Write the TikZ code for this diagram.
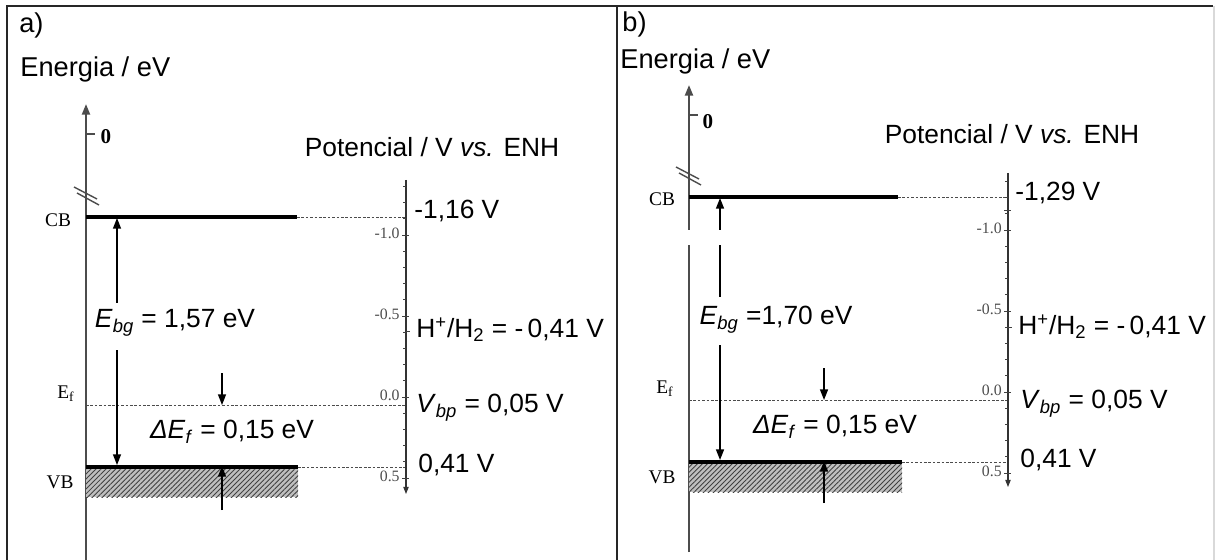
\documentclass[tikz,border=0pt]{standalone}
\usepackage{fontspec}
\setmainfont{Liberation Sans}
\newfontfamily\tnr{Liberation Serif}
\usepackage{tikz}
\usetikzlibrary{arrows.meta,positioning,patterns.meta}

\begin{document}
\begin{tikzpicture}[x=0.02cm, y=-0.02cm,
  every node/.style={inner sep=0pt, font=\fontsize{15}{18}\selectfont},
  tag/.style={anchor=base west, font=\fontsize{15.5}{18}\selectfont},
  axis/.style={draw=black!70, line width=1.2pt, -{Triangle[length=6pt,width=4.5pt]}},
  potaxis/.style={draw=black!80, line width=0.6pt, -{Triangle[length=4pt,width=3pt]}},
  band/.style={line width=1.9pt},
  guide/.style={draw=black!70, line width=0.4pt, dash pattern=on 1.5pt off 1pt},
  gaparrow/.style={line width=0.8pt, -{Triangle[length=6pt,width=4.5pt]}},
  hatch/.style={pattern={Lines[angle=45,distance=2pt,line width=0.5pt]}, pattern color=black!75},
  lvl/.style={font=\tnr\fontsize{11}{13}\selectfont},
  ticklab/.style={anchor=east, text=black!70, font=\tnr\fontsize{9}{11}\selectfont},
  value/.style={anchor=west}
]
\useasboundingbox (0,0) rectangle (1216,560);

% frame
\draw[line width=0.8pt, black!85] (7,560) -- (7,6) -- (1213,6);
\draw[line width=0.8pt, black!85] (617,6) -- (617,560);
\draw[line width=0.7pt, black!15] (1214,6) -- (1214,560);

% ---------- a) ----------
\node[tag] (ta) at (19,33) {a)};
\node[tag] (ena) at (20,77) {Energia / eV};
\coordinate (a0) at (86,560);
\coordinate (a1) at (86,104);
\draw[axis] (a0) -- (a1);
\draw[black!70, line width=0.6pt] (86,134) -- (95,134);
\node[lvl, font=\tnr\bfseries\fontsize{12}{14}\selectfont] (za) at (106,137) {0};
\draw[black!70, line width=0.8pt] (74,187) -- (97,199) (77,193) -- (99,205);

\coordinate (cba) at (86,217);
\coordinate (cbb) at (297,217);
\coordinate (cbp) at (406,217);
\draw[band] (cba) -- (cbb);
\draw[guide] (cbb) -- (cbp);
\node[lvl] (cbla) at (58,220) {CB};

\coordinate (efa) at (86,405);
\coordinate (efp) at (406,405);
\draw[guide] (efa) -- (efp);
\node[lvl] (efla) at (66,394) {E\textsubscript{f}};

\coordinate (vba) at (86,467);
\coordinate (vbb) at (298,467);
\coordinate (vbh) at (298,497);
\coordinate (vbp) at (406,467);
\fill[black!25] (vba) rectangle (vbh);
\fill[hatch] (vba) rectangle (vbh);
\draw[band] (vba) -- (vbb);
\draw[guide] (vbb) -- (vbp);
\node[lvl] (vbla) at (60,482) {VB};

\node (ebga) at (175,323) {\textit{E}\textsubscript{\textit{bg}} = 1,57 eV};
\coordinate (ga1) at (117,303);
\coordinate (ga2) at (117,218);
\coordinate (ga3) at (117,350);
\coordinate (ga4) at (117,465);
\draw[gaparrow] (ga1) -- (ga2);
\draw[gaparrow] (ga3) -- (ga4);

\node (defa) at (232,432) {\textit{ΔE}\textsubscript{\textit{f}} = 0,15 eV};
\coordinate (da1) at (222,373);
\coordinate (da2) at (222,405);
\coordinate (ua1) at (222,510);
\coordinate (ua2) at (222,466);
\draw[gaparrow] (da1) -- (da2);
\draw[gaparrow] (ua1) -- (ua2);

\coordinate (pa0) at (406,180);
\coordinate (pa1) at (406,494);
\draw[potaxis] (pa0) -- (pa1);
\foreach \v in {-13,...,5}
  \draw[black!75, line width=0.4pt] (406,{397+16.2*\v}) -- ++(-3,0);
\foreach \v/\t [count=\i] in {-10/-1.0,-5/-0.5,0/0.0,5/0.5} {
  \draw[black!75, line width=0.4pt] (402,{397+16.2*\v}) -- ++(7,0);
  \node[ticklab] (tka\i) at (400,{397+16.2*\v-2}) {\t};
}
\draw[black!75, line width=0.4pt] (406,331) -- ++(4,0);

\node (pta) at (432,147) {Potencial / V \textit{vs.} ENH};
\node[value] (v1a) at (414,211) {-1,16 V};
\node[value] (v2a) at (416,330) {H\textsuperscript{+}/H\textsubscript{2} = -\,0,41 V};
\node[value] (v3a) at (416,408) {\textit{V}\textsubscript{\textit{bp}} = 0,05 V};
\node[value] (v4a) at (418,465) {0,41 V};

% ---------- b) ----------
\node[tag] (tb) at (622,32) {b)};
\node[tag] (enb) at (620,69) {Energia / eV};
\coordinate (b0) at (689,552);
\coordinate (bg1) at (689,245);
\coordinate (bg2) at (689,230);
\coordinate (b1) at (689,85);
\draw[draw=black!70, line width=1.2pt] (b0) -- (bg1);
\draw[axis] (bg2) -- (b1);
\draw[black!70, line width=0.6pt] (689,115) -- (698,115);
\node[lvl, font=\tnr\bfseries\fontsize{12}{14}\selectfont] (zb) at (708,122) {0};
\draw[black!70, line width=0.8pt] (676,167) -- (699,179) (679,173) -- (701,185);

\coordinate (cbc) at (689,197);
\coordinate (cbd) at (898,197);
\coordinate (cbq) at (1008,197);
\draw[band] (cbc) -- (cbd);
\draw[guide] (cbd) -- (cbq);
\node[lvl] (cblb) at (662,199) {CB};

\coordinate (efc) at (689,400);
\coordinate (efq) at (1008,400);
\draw[guide] (efc) -- (efq);
\node[lvl] (eflb) at (665,389) {E\textsubscript{f}};

\coordinate (vbc) at (689,462);
\coordinate (vbd) at (902,462);
\coordinate (vbi) at (902,492);
\coordinate (vbq) at (1008,462);
\fill[black!25] (vbc) rectangle (vbi);
\fill[hatch] (vbc) rectangle (vbi);
\draw[band] (vbc) -- (vbd);
\draw[guide] (vbd) -- (vbq);
\node[lvl] (vblb) at (662,477) {VB};

\node (ebgb) at (776,320) {\textit{E}\textsubscript{\textit{bg}} =1,70 eV};
\coordinate (gb0) at (720,297);
\coordinate (gb1) at (720,245);
\coordinate (gb2) at (720,230);
\coordinate (gb3) at (720,198);
\coordinate (gb4) at (720,345);
\coordinate (gb5) at (720,460);
\draw[line width=0.8pt] (gb0) -- (gb1);
\draw[gaparrow] (gb2) -- (gb3);
\draw[gaparrow] (gb4) -- (gb5);

\node (defb) at (835,427) {\textit{ΔE}\textsubscript{\textit{f}} = 0,15 eV};
\coordinate (db1) at (824,368);
\coordinate (db2) at (824,400);
\coordinate (ub1) at (824,503);
\coordinate (ub2) at (824,461);
\draw[gaparrow] (db1) -- (db2);
\draw[gaparrow] (ub1) -- (ub2);

\coordinate (pb0) at (1008,173);
\coordinate (pb1) at (1008,487);
\draw[potaxis] (pb0) -- (pb1);
\foreach \v in {-13,...,5}
  \draw[black!75, line width=0.4pt] (1008,{392+16.2*\v}) -- ++(-3,0);
\foreach \v/\t [count=\i] in {-10/-1.0,-5/-0.5,0/0.0,5/0.5} {
  \draw[black!75, line width=0.4pt] (1004,{392+16.2*\v}) -- ++(7,0);
  \node[ticklab] (tkb\i) at (1002,{392+16.2*\v-2}) {\t};
}
\draw[black!75, line width=0.4pt] (1008,327) -- ++(4,0);
\draw[black!75, line width=0.4pt] (1004,210) -- ++(7,0);

\node (ptb) at (1012,134) {Potencial / V \textit{vs.} ENH};
\node[value] (v1b) at (1015,193) {-1,29 V};
\node[value] (v2b) at (1018,327) {H\textsuperscript{+}/H\textsubscript{2} = -\,0,41 V};
\node[value] (v3b) at (1020,404) {\textit{V}\textsubscript{\textit{bp}} = 0,05 V};
\node[value] (v4b) at (1020,460) {0,41 V};
\end{tikzpicture}
\end{document}
